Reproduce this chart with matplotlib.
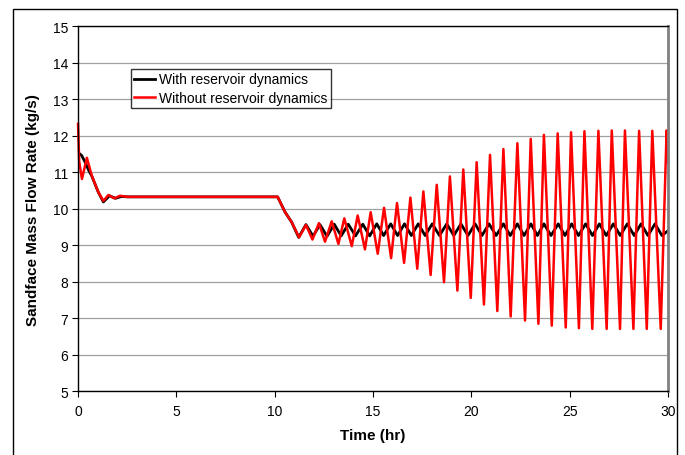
import matplotlib
matplotlib.use("Agg")
import matplotlib.pyplot as plt
from matplotlib.patches import Rectangle

plt.rcParams['font.family'] = ['Liberation Sans', 'DejaVu Sans']

# --- data ---
# with reservoir dynamics (black)
with_t = [0.0, 0.19, 0.36, 0.55, 0.70, 1.03, 1.29, 1.60, 1.90, 2.20, 2.50,
          10.15, 10.53, 10.86, 11.22,
          11.59, 11.95, 12.30, 12.66, 13.03, 13.38, 13.74, 14.11, 14.48, 14.83,
          15.19, 15.54, 15.90, 16.25, 16.60, 16.95, 17.30, 17.65, 18.01, 18.38,
          18.75, 19.11, 19.47, 19.83, 20.19, 20.54, 20.90, 21.26, 21.63, 21.98,
          22.34, 22.68, 23.03, 23.36, 23.69, 24.05, 24.42, 24.76, 25.10, 25.45,
          25.81, 26.16, 26.51, 26.86, 27.22, 27.57, 27.93, 28.28, 28.63, 28.98,
          29.34, 29.69, 30.0]
with_q = [11.55, 11.46, 11.28, 11.05, 10.90, 10.46, 10.19, 10.36, 10.29, 10.34, 10.33,
          10.33, 9.91, 9.64, 9.22,
          9.57, 9.25, 9.57, 9.25, 9.58, 9.26, 9.58, 9.26, 9.58, 9.26,
          9.59, 9.27, 9.59, 9.27, 9.59, 9.27, 9.59, 9.27, 9.59, 9.27,
          9.59, 9.27, 9.59, 9.27, 9.59, 9.27, 9.59, 9.27, 9.59, 9.27,
          9.59, 9.27, 9.59, 9.27, 9.59, 9.27, 9.59, 9.27, 9.59, 9.27,
          9.59, 9.27, 9.59, 9.27, 9.59, 9.27, 9.59, 9.27, 9.59, 9.27,
          9.59, 9.27, 9.40]

# without reservoir dynamics (red)
without_t = [0.0, 0.06, 0.20, 0.45, 0.70, 1.03, 1.29, 1.54, 1.85, 2.14, 2.50,
             10.15, 10.53, 10.86, 11.24,
             11.59, 11.92, 12.25, 12.56, 12.90, 13.24, 13.54, 13.92, 14.22, 14.59,
             14.88, 15.24, 15.56, 15.92, 16.22, 16.58, 16.90, 17.25, 17.56, 17.93,
             18.24, 18.61, 18.91, 19.29, 19.59, 19.97, 20.27, 20.64, 20.95, 21.32,
             21.63, 22.00, 22.34, 22.73, 23.02, 23.41, 23.69, 24.09, 24.39, 24.80,
             25.07, 25.47, 25.75, 26.15, 26.46, 26.88, 27.14, 27.56, 27.81, 28.24,
             28.53, 28.92, 29.20, 29.63, 29.93, 30.0]
without_q = [12.33, 11.30, 10.82, 11.40, 10.91, 10.46, 10.22, 10.38, 10.29, 10.36, 10.33,
             10.33, 9.91, 9.64, 9.22,
             9.56, 9.16, 9.61, 9.10, 9.66, 9.04, 9.74, 8.98, 9.82, 8.89,
             9.91, 8.77, 10.03, 8.65, 10.16, 8.52, 10.31, 8.36, 10.48, 8.19,
             10.66, 7.99, 10.89, 7.76, 11.08, 7.56, 11.28, 7.38, 11.48, 7.20,
             11.64, 7.05, 11.80, 6.94, 11.92, 6.85, 12.03, 6.80, 12.07, 6.75,
             12.10, 6.73, 12.13, 6.71, 12.14, 6.71, 12.15, 6.71, 12.15, 6.71,
             12.14, 6.71, 12.14, 6.71, 12.15, 11.29]

x_ticks = [0, 5, 10, 15, 20, 25, 30]
y_ticks = [5, 6, 7, 8, 9, 10, 11, 12, 13, 14, 15]

fig = plt.figure(figsize=(6.85, 4.56), dpi=100)
ax = fig.add_axes([0.1139, 0.1397, 0.8613, 0.800])

# outer chart frame (bottom edge runs off the image)
fig.patches.append(Rectangle((13/685, -0.05), (677-13)/685, 1.05 - 10/456,
                             transform=fig.transFigure, fill=False,
                             edgecolor='black', lw=1.0))

ax.plot(with_t, with_q, color='black', lw=2.0, label='With reservoir dynamics')
ax.plot(without_t, without_q, color='#ff0000', lw=1.8, label='Without reservoir dynamics',
        clip_on=False)

ax.set_xlim(0, 30)
ax.set_ylim(5, 15)
ax.set_xticks(x_ticks)
ax.set_yticks(y_ticks)
ax.tick_params(direction='out', length=4, width=0.8, labelsize=10, pad=3)
ax.tick_params(axis='x', pad=5)
ax.yaxis.grid(True, color='#a0a0a0', lw=0.9)
ax.set_axisbelow(True)

for s in ['left', 'bottom', 'top']:
    ax.spines[s].set_color('black')
    ax.spines[s].set_linewidth(1.0)
ax.spines['right'].set_color('#808080')
ax.spines['right'].set_linewidth(2.0)

ax.set_xlabel('Time (hr)', fontsize=11, fontweight='bold', labelpad=7)
ax.set_ylabel('Sandface Mass Flow Rate (kg/s)', fontsize=11, fontweight='bold', labelpad=9)

leg = ax.legend(loc='upper left', bbox_to_anchor=(0.0898, 0.8835), borderaxespad=0,
                fontsize=10, frameon=True, fancybox=False, handlelength=1.5,
                handletextpad=0.25, labelspacing=0.3, borderpad=0.25)
leg.get_frame().set_edgecolor('black')
leg.get_frame().set_linewidth(1.0)

fig.savefig('out.png', dpi=100)
